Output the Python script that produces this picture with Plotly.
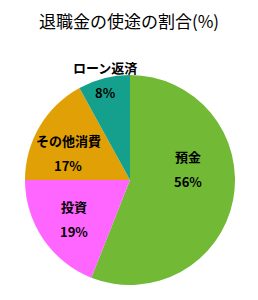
import math
import plotly.graph_objects as go

labels = ["預金", "投資", "その他消費", "ローン返済"]
values = [56, 19, 17, 8]
colors = ["#72B936", "#FF66FF", "#E1A106", "#14A08C"]
title = "退職金の使途の割合(%)"

W, H = 258, 300
cx, cy, r = 130, 180, 105
label_rf = 0.65
# pixel nudges of each label block from its mid-angle anchor (style only)
nudges = [(-9, -24), (0, 1), (-3, 8), (-8, -34)]
line_gap = 25
font = dict(family="Noto Sans CJK JP", size=13, color="#000000")

fig = go.Figure(go.Pie(
    labels=labels,
    values=values,
    sort=False,
    direction="clockwise",
    rotation=0,
    marker=dict(colors=colors, line=dict(width=0)),
    textinfo="none",
    hoverinfo="label+percent",
    showlegend=False,
    domain=dict(x=[(cx - r) / W, (cx + r) / W], y=[(H - cy - r) / H, (H - cy + r) / H]),
))

total = sum(values)
cum = 0
for lab, v, (nx, ny) in zip(labels, values, nudges):
    mid = (cum + v / 2) / total * 2 * math.pi
    cum += v
    bx = cx + label_rf * r * math.sin(mid) + nx
    by = cy - label_rf * r * math.cos(mid) + ny
    pct = f"{v / total * 100:.0f}%"
    for txt, yy in ((lab, by - line_gap / 2), (pct, by + line_gap / 2)):
        fig.add_annotation(x=bx / W, y=1 - yy / H, xref="paper", yref="paper",
                           text=f"<b>{txt}</b>", showarrow=False,
                           xanchor="center", yanchor="middle", font=font)

fig.update_layout(
    width=W, height=H,
    margin=dict(l=0, r=0, t=0, b=0),
    paper_bgcolor="white",
    title=dict(text=title, x=0.5, xanchor="center", y=1 - 22 / H, yanchor="middle",
               font=dict(family="Noto Sans CJK JP", size=17, color="#000000")),
)

fig.write_html("out.html")
